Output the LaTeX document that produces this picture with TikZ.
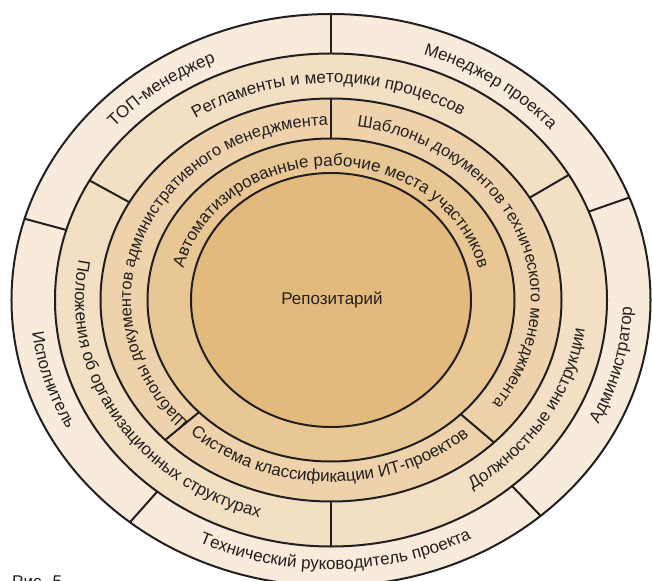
\documentclass[tikz,border=0pt]{standalone}
\usepackage{fontspec}
\setmainfont{Liberation Sans}
\usetikzlibrary{decorations.text}
\definecolor{ringA}{HTML}{F8EBDB}
\definecolor{ringB}{HTML}{F3DFC3}
\definecolor{ringC}{HTML}{EDD2AB}
\definecolor{ringD}{HTML}{E8C794}
\definecolor{ringE}{HTML}{E3BA7E}
\definecolor{inkc}{HTML}{231F20}
\newcommand\dfont{\fontsize{17}{20}\selectfont}
\newcommand\sfontc{\fontsize{16.4}{19}\selectfont}
\tikzset{
  ringline/.style={draw=inkc, line width=2pt},
  divider/.style={draw=inkc, line width=2pt},
  arctext/.style={decorate, decoration={text along path, text={|\dfont|#1}, text align=center, text color=inkc}},
  arctextsmall/.style={decorate, decoration={text along path, text={|\sfontc|#1}, text align=center, text color=inkc}},
}
\newcommand\arctxt[5]{%
  \path[arctext={#5}] (#1:#3 and #4) arc[start angle=#1, end angle=#2, x radius=#3, y radius=#4];}
\newcommand\arctxtsm[5]{%
  \path[arctextsmall={#5}] (#1:#3 and #4) arc[start angle=#1, end angle=#2, x radius=#3, y radius=#4];}
\begin{document}
\begin{tikzpicture}[x=1pt,y=1pt]
\useasboundingbox (-331,-280) rectangle (321,300);
\clip (-331,-280) rectangle (321,300);
\fill[white] (-331,-280) rectangle (321,300);
% rings
\path[ringline, fill=ringA] (0,0) ellipse [x radius=319.5, y radius=286];
\path[ringline, fill=ringB] (0,0) ellipse [x radius=276, y radius=246.5];
\path[ringline, fill=ringC] (0,0) ellipse [x radius=230.5, y radius=201.5];
\path[ringline, fill=ringD] (0,0) ellipse [x radius=183.5, y radius=161.5];
\path[ringline, fill=ringE] (0,0) ellipse [x radius=140, y radius=127];
% dividers
\foreach \t in {90,21,-49,-129,163.5}
  \draw[divider] (\t:319.5 and 286) -- (\t:276 and 246.5);
\foreach \t in {151,30.5,-90}
  \draw[divider] (\t:276 and 246.5) -- (\t:230.5 and 201.5);
\foreach \t in {90,-136,-45}
  \draw[divider] (\t:230.5 and 201.5) -- (\t:183.5 and 161.5);
% outer ring texts
\arctxt{163.5}{90}{290.75}{259.25}{ТОП-менеджер}
\arctxt{90}{21}{290.75}{259.25}{Менеджер проекта}
\arctxt{-49}{21}{301}{269.5}{Администратор}
\arctxt{-139}{-39}{301}{269.5}{Технический руководитель проекта}
\arctxt{163.5}{231}{301}{269.5}{Исполнитель}
% ring 2
\arctxt{161}{20.5}{246.25}{217}{Регламенты и методики процессов}
\arctxt{-100}{40.5}{256}{227}{Должностные инструкции}
\arctxt{141}{280}{256}{227}{Положения об организационных структурах}
% ring 3
\arctxtsm{236}{80}{200}{174.5}{Шаблоны документов административного менеджмента}
\arctxtsm{102}{-57}{200}{174.5}{Шаблоны документов технического менеджмента}
\arctxt{-146}{-35}{208}{182}{Система классификации ИТ-проектов}
% ring 4
\arctxt{180}{0}{151.75}{134}{Автоматизированные рабочие места участников}
% centre
\node[font=\dfont, text=inkc] (repo) at (1,0) {Репозитарий};
\node[anchor=north west, inner sep=0pt, font=\fontsize{17}{20}\selectfont, text=inkc] (cap) at (-319,-276) {Рис. 5};
\end{tikzpicture}
\end{document}
